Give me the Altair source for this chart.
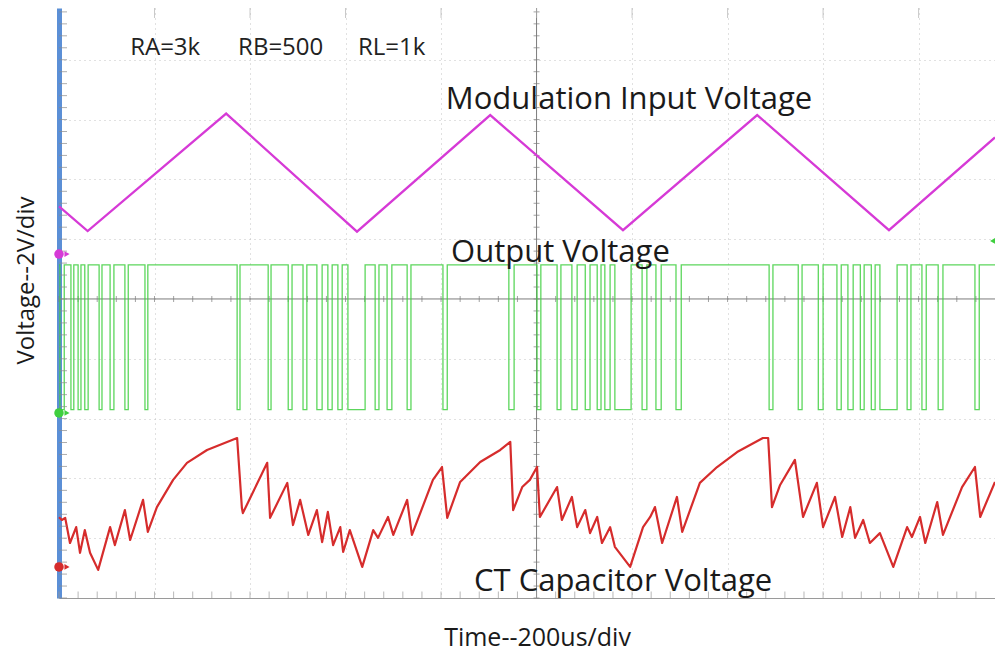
import altair as alt
import pandas as pd
import numpy as np

FONT = "Open Sans"

# ---------------- data (time in us, voltage in V) ----------------
# Modulation input voltage (magenta triangle)
mod_t = [0, 60, 350, 624, 903, 1181, 1462, 1738, 1960]
mod_v = [3.1, 2.27, 6.2, 2.25, 6.15, 2.3, 6.15, 2.3, 5.4]

# Output voltage (green): high / low levels and low-going pulses
out_high = 1.14
out_low = -3.7
pulse_start = [2, 25, 40, 54, 84, 107, 138, 180, 373, 438, 480, 511, 540, 563, 584, 605,
               662, 687, 729, 804, 942, 1001, 1043, 1074, 1102, 1127, 1143, 1164, 1221,
               1250, 1292, 1487, 1548, 1590, 1629, 1652, 1678, 1701, 1719, 1776, 1807,
               1841, 1918]
pulse_end = [11, 31, 46, 61, 90, 115, 145, 186, 379, 444, 488, 519, 551, 572, 593, 641,
             670, 697, 737, 813, 953, 1009, 1051, 1085, 1112, 1135, 1154, 1198, 1231,
             1261, 1303, 1495, 1556, 1600, 1638, 1663, 1686, 1709, 1755, 1784, 1816,
             1851, 1927]

# CT capacitor voltage (red)
ct_t = [0, 6, 13, 23, 36, 44, 54, 65, 82, 107, 117, 138, 149, 176, 186, 205, 239, 268,
        310, 352, 373, 383, 385, 436, 442, 478, 490, 505, 522, 540, 551, 563, 574, 589,
        595, 609, 635, 658, 668, 689, 700, 729, 739, 783, 802, 813, 840, 882, 924, 945,
        951, 970, 986, 1001, 1007, 1043, 1053, 1074, 1085, 1102, 1112, 1127, 1137, 1154,
        1164, 1196, 1223, 1238, 1248, 1263, 1294, 1305, 1342, 1378, 1420, 1474, 1485,
        1493, 1510, 1541, 1558, 1587, 1600, 1625, 1640, 1657, 1667, 1684, 1698, 1719,
        1747, 1776, 1786, 1803, 1814, 1839, 1851, 1891, 1918, 1929, 1960]
ct_v = [-7.3, -7.39, -7.32, -8.16, -7.63, -8.49, -7.73, -8.49, -9.06, -7.63, -8.23, -7.06,
        -8.06, -6.72, -7.79, -6.96, -6.05, -5.48, -5.05, -4.78, -4.65, -6.99, -7.16, -5.48,
        -7.32, -6.15, -7.56, -6.72, -7.89, -7.06, -8.13, -7.12, -8.23, -7.63, -8.46, -7.73,
        -8.96, -7.73, -7.99, -7.29, -7.89, -6.72, -7.89, -6.05, -5.62, -7.32, -6.12, -5.45,
        -5.05, -4.78, -7.06, -6.29, -6.05, -5.62, -7.29, -6.29, -7.39, -6.62, -7.63, -7.06,
        -7.83, -7.29, -8.16, -7.63, -8.29, -8.96, -7.63, -7.29, -6.96, -8.16, -6.62, -7.79,
        -6.15, -5.62, -5.12, -4.65, -4.65, -6.96, -6.22, -5.38, -7.29, -6.15, -7.63, -6.62,
        -7.96, -6.96, -7.99, -7.39, -8.16, -7.83, -8.96, -7.63, -7.96, -7.29, -8.16, -6.79,
        -7.89, -6.29, -5.62, -7.29, -6.12]

# Channel ground markers on the left edge
ch_v = [1.5, -3.81, -8.96]
ch_color = ["#d63ad6", "#3fcf3f", "#d62c2c"]
trig_t = [1955]
trig_v = [1.94]

# Annotations
small_text = ["RA=3k", "RB=500", "RL=1k"]
small_t = [149, 375, 626]
small_v = [8.39, 8.39, 8.39]
big_text = ["Modulation Input Voltage", "Output Voltage", "CT Capacitor Voltage"]
big_t = [810, 821, 869]
big_v = [6.66, 1.54, -9.46]

# ---------------- build tables ----------------
mod_df = pd.DataFrame({"t": mod_t, "v": mod_v, "i": range(len(mod_t))})

g_t, g_v = [0], [out_high]
for s, e in zip(pulse_start, pulse_end):
    g_t += [s, s, e, e]
    g_v += [out_high, out_low, out_low, out_high]
g_t.append(1960)
g_v.append(out_high)
out_df = pd.DataFrame({"t": g_t, "v": g_v, "i": range(len(g_t))})

ct_df = pd.DataFrame({"t": ct_t, "v": ct_v, "i": range(len(ct_t))})
ch_df = pd.DataFrame({"t": [0] * 3, "v": ch_v, "c": ch_color})
trig_df = pd.DataFrame({"t": trig_t, "v": trig_v})
small_df = pd.DataFrame({"label": small_text, "t": small_t, "v": small_v})
big_df = pd.DataFrame({"label": big_text, "t": big_t, "v": big_v})

T_MAX = 1960
V_MIN, V_MAX = -10, 9.73
minor_t = np.arange(0, T_MAX, 40)
minor_v = np.arange(-10, V_MAX, 0.4)
major_t = np.arange(200, T_MAX, 200)

xs = alt.Scale(domain=[0, T_MAX], nice=False, zero=False)
ys = alt.Scale(domain=[V_MIN, V_MAX], nice=False, zero=False)

ax_x = alt.Axis(values=[200, 400, 600, 800, 1200, 1400, 1600, 1800], labels=False,
                ticks=False, domain=True, domainColor="#9a9a9a", domainWidth=1,
                grid=True, gridColor="#c2c2c2", gridDash=[1, 4], gridWidth=1,
                title="Time--200us/div", titleFont=FONT, titleFontSize=25,
                titleFontWeight="normal", titleColor="#1a1a1a", titleX=478, titleY=39,
                titleAlign="center", titleBaseline="middle")
ax_y = alt.Axis(values=[-8, -6, -4, -2, 2, 4, 6, 8], labels=False, ticks=False,
                domain=True, domainColor="#5b8fd6", domainWidth=5,
                grid=True, gridColor="#c2c2c2", gridDash=[1, 4], gridWidth=1,
                title="Voltage--2V/div", titleFont=FONT, titleFontSize=24,
                titleFontWeight="normal", titleColor="#1a1a1a", titleAngle=270,
                titleX=-33, titleY=272, titleAlign="center", titleBaseline="middle")

X = alt.X("t:Q", scale=xs, axis=ax_x)
Y = alt.Y("v:Q", scale=ys, axis=ax_y)

GRAY = "#7c7c7c"

vrule = alt.Chart(pd.DataFrame({"t": [1000]})).mark_rule(color=GRAY, strokeWidth=1).encode(x=X)
hrule = alt.Chart(pd.DataFrame({"v": [0]})).mark_rule(color=GRAY, strokeWidth=1).encode(y=Y)

h_ticks = alt.Chart(pd.DataFrame({"t": minor_t, "v": 0})).mark_tick(
    orient="vertical", size=6, thickness=1, color=GRAY).encode(x=X, y=Y)
v_ticks = alt.Chart(pd.DataFrame({"t": 1000, "v": minor_v})).mark_tick(
    orient="horizontal", size=6, thickness=1, color=GRAY).encode(x=X, y=Y)
bottom_ticks = alt.Chart(pd.DataFrame({"t": minor_t, "v": V_MIN})).mark_tick(
    orient="vertical", size=7, thickness=1, color="#9a9a9a", yOffset=-3).encode(x=X, y=Y)
top_ticks = alt.Chart(pd.DataFrame({"t": major_t, "v": V_MAX})).mark_tick(
    orient="vertical", size=10, thickness=1, color="#b0b0b0", yOffset=5).encode(x=X, y=Y)
left_ticks = alt.Chart(pd.DataFrame({"t": 0, "v": minor_v})).mark_tick(
    orient="horizontal", size=8, thickness=1, color="#8a8a8a", xOffset=4).encode(x=X, y=Y)

ct_line = alt.Chart(ct_df).mark_line(color="#d62c2c", strokeWidth=2.2, strokeJoin="round").encode(
    x=X, y=Y, order="i:Q")
out_line = alt.Chart(out_df).mark_line(color="#3fcf3f", strokeWidth=1.3, opacity=0.85).encode(
    x=X, y=Y, order="i:Q")
mod_line = alt.Chart(mod_df).mark_line(color="#d63ad6", strokeWidth=2.3).encode(
    x=X, y=Y, order="i:Q")

ch_dots = alt.Chart(ch_df).mark_point(shape="circle", filled=True, size=90, opacity=1).encode(
    x=X, y=Y, color=alt.Color("c:N", scale=None))
ch_arrows = alt.Chart(ch_df).mark_point(shape="triangle-right", filled=True, size=35,
                                        opacity=1, xOffset=8).encode(
    x=X, y=Y, color=alt.Color("c:N", scale=None))
trig = alt.Chart(trig_df).mark_point(shape="triangle-left", filled=True, size=35, opacity=1,
                                     color="#3fcf3f").encode(x=X, y=Y)

small_lbl = alt.Chart(small_df).mark_text(align="left", baseline="middle", font=FONT,
                                          fontSize=24, color="#222222").encode(
    x=X, y=Y, text="label:N")
big_lbl = alt.Chart(big_df).mark_text(align="left", baseline="middle", font=FONT,
                                      fontSize=31, color="#1a1a1a").encode(
    x=X, y=Y, text="label:N")

chart = alt.layer(
    vrule, hrule, h_ticks, v_ticks, bottom_ticks, top_ticks,
    ct_line, out_line, mod_line,
    left_ticks, ch_dots, ch_arrows, trig,
    small_lbl, big_lbl,
).properties(
    width=936, height=590,
    autosize=alt.AutoSizeParams(type="none"),
    padding={"left": 51, "top": 0, "right": 0, "bottom": 53},
    background="white",
).configure_view(stroke=None)

chart.save("out.html", embed_options={"renderer": "svg", "actions": False})
